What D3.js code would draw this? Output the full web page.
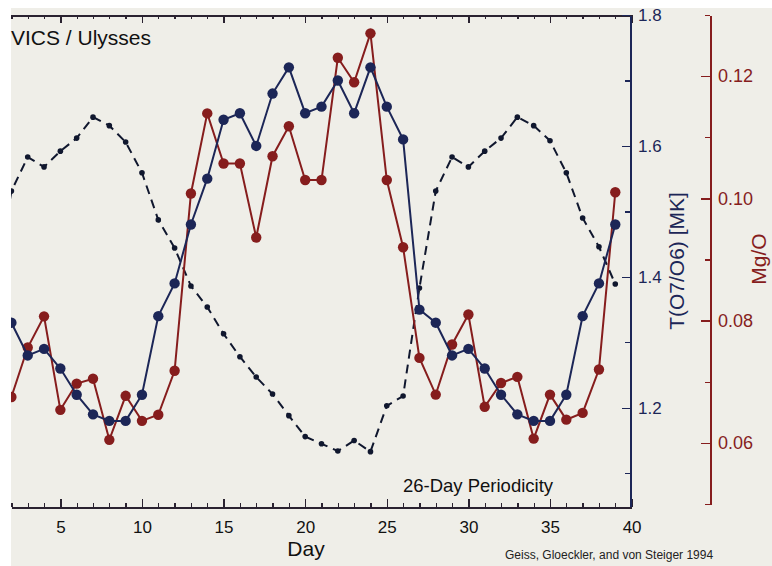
<!DOCTYPE html>
<html>
<head>
<meta charset="utf-8">
<script src="https://cdn.jsdelivr.net/npm/d3@7"></script>
<style>
  body { margin: 0; background: #fff; }
  svg { display: block; font-family: "Liberation Sans", Arial, Helvetica, sans-serif; }
  .axis path, .axis line { shape-rendering: crispEdges; }
</style>
</head>
<body>
<script>
// days (x)
const days = [2, 3, 4, 5, 6, 7, 8, 9, 10, 11, 12, 13, 14, 15, 16, 17, 18, 19, 20,
  21, 22, 23, 24, 25, 26, 27, 28, 29, 30, 31, 32, 33, 34, 35, 36, 37, 38, 39];

// T(O7/O6) in MK, blue
const tempO7O6 = [1.33, 1.28, 1.29, 1.26, 1.22, 1.19, 1.18, 1.18, 1.22, 1.34, 1.39,
  1.48, 1.55, 1.64, 1.65, 1.60, 1.68, 1.72, 1.65, 1.66, 1.70, 1.65, 1.72, 1.66, 1.61,
  1.35, 1.33, 1.28, 1.29, 1.26, 1.22, 1.19, 1.18, 1.18, 1.22, 1.34, 1.39, 1.48];

// Mg/O, red
const mgO = [0.0675, 0.0756, 0.0807, 0.0654, 0.0697, 0.0705, 0.0605, 0.0677, 0.0636,
  0.0646, 0.0718, 0.1008, 0.1139, 0.1057, 0.1057, 0.0936, 0.1069, 0.1118, 0.1030,
  0.1030, 0.1230, 0.1190, 0.1270, 0.1030, 0.0920, 0.0739, 0.0679, 0.0761, 0.0810,
  0.0659, 0.0698, 0.0708, 0.0607, 0.0679, 0.0638, 0.0649, 0.0720, 0.1010];

// dashed periodicity curve (plotted on T scale)
const periodDays = [1, 2, 3, 4, 5, 6, 7, 8, 9, 10, 11, 12, 13, 14, 15, 16, 17, 18, 19, 20,
  21, 22, 23, 24, 25, 26, 27, 28, 29, 30, 31, 32, 33, 34, 35, 36, 37, 38, 39];
const periodCurve = [1.383, 1.531, 1.583, 1.568, 1.592, 1.612, 1.644, 1.631, 1.606, 1.559,
  1.487, 1.444, 1.386, 1.354, 1.313, 1.278, 1.247, 1.221, 1.188, 1.156, 1.145, 1.134,
  1.150, 1.133, 1.203, 1.218, 1.383, 1.531, 1.583, 1.568, 1.592, 1.612, 1.644, 1.631,
  1.608, 1.559, 1.490, 1.446, 1.389];

const dayMajor = [5, 10, 15, 20, 25, 30, 35, 40];
const tMajor = [1.2, 1.4, 1.6, 1.8];
const tMinor = [1.1, 1.3, 1.5, 1.7];
const mgMajor = [0.06, 0.08, 0.10, 0.12];
const mgMinor = [0.05, 0.07, 0.09, 0.11, 0.13];

const W = 772, H = 566;
const navy = "#1c2657", red = "#861d1d", ink = "#10172e";
const pLeft = 11, pTop = 15, pRight = 631, pBottom = 507;

const svg = d3.select("body").append("svg")
  .attr("width", W).attr("height", H);

svg.append("rect").attr("width", W).attr("height", H).attr("fill", "#fff");
svg.append("rect").attr("x", 11).attr("y", 8).attr("width", W - 11).attr("height", H - 8)
  .attr("fill", "#efeee8");

const x = d3.scaleLinear().domain([2, 40]).range([11.4, 631.6]);
const yT = d3.scaleLinear().domain([1.05, 1.8]).range([506, 15]);
const yM = d3.scaleLinear().domain([0.05, 0.13]).range([504, 15]);

svg.append("clipPath").attr("id", "plot")
  .append("rect").attr("x", pLeft).attr("y", pTop)
  .attr("width", pRight - pLeft).attr("height", pBottom - pTop);

// x axis bottom, ticks pointing up
const minorDays = days.filter(d => d % 5 !== 0);
svg.append("g").attr("class", "axis")
  .attr("transform", "translate(0," + pBottom + ")")
  .call(d3.axisBottom(x).tickValues(minorDays).tickSizeInner(-4).tickSizeOuter(0).tickFormat(""))
  .call(g => g.select(".domain").attr("stroke", "#2a2230").attr("stroke-width", 2));
svg.append("g").attr("class", "axis")
  .attr("transform", "translate(0," + pBottom + ")")
  .call(d3.axisBottom(x).tickValues(dayMajor).tickSize(-8).tickPadding(14).tickFormat(d3.format("d")))
  .call(g => g.select(".domain").remove())
  .call(g => g.selectAll("text").attr("font-size", 17).attr("fill", "#111"));

// top frame, ticks pointing down
svg.append("g").attr("class", "axis")
  .attr("transform", "translate(0," + pTop + ")")
  .call(d3.axisTop(x).tickValues(minorDays).tickSizeInner(-4).tickSizeOuter(0).tickFormat(""))
  .call(g => g.select(".domain").attr("stroke", "#2a2230").attr("stroke-width", 2));
svg.append("g").attr("class", "axis")
  .attr("transform", "translate(0," + pTop + ")")
  .call(d3.axisTop(x).tickValues(dayMajor).tickSize(-8).tickFormat(""))
  .call(g => g.select(".domain").remove());

svg.selectAll(".axis line").attr("stroke", "#2a2230").attr("stroke-width", 1.3);

// T axis (right side of frame)
svg.append("g").attr("class", "axis")
  .attr("transform", "translate(630,0)")
  .call(d3.axisRight(yT).tickValues(tMinor).tickSizeInner(-5).tickSizeOuter(0).tickFormat(""))
  .call(g => g.select(".domain").attr("stroke", navy).attr("stroke-width", 2))
  .call(g => g.selectAll("line").attr("stroke", navy).attr("stroke-width", 1.3));
svg.append("g").attr("class", "axis")
  .attr("transform", "translate(630,0)")
  .call(d3.axisRight(yT).tickValues(tMajor).tickSize(-8).tickPadding(8).tickFormat(d3.format(".1f")))
  .call(g => g.select(".domain").remove())
  .call(g => g.selectAll("line").attr("stroke", navy).attr("stroke-width", 1.3))
  .call(g => g.selectAll("text").attr("font-size", 17).attr("fill", navy));

// Mg/O axis
svg.append("g").attr("class", "axis")
  .attr("transform", "translate(710,0)")
  .call(d3.axisRight(yM).tickValues(mgMinor).tickSizeInner(-5).tickSizeOuter(0).tickFormat(""))
  .call(g => g.select(".domain").attr("stroke", red).attr("stroke-width", 2))
  .call(g => g.selectAll("line").attr("stroke", red).attr("stroke-width", 1.3));
svg.append("g").attr("class", "axis")
  .attr("transform", "translate(710,0)")
  .call(d3.axisRight(yM).tickValues(mgMajor).tickSize(-9).tickPadding(8).tickFormat(d3.format(".2f")))
  .call(g => g.select(".domain").remove())
  .call(g => g.selectAll("line").attr("stroke", red).attr("stroke-width", 1.3))
  .call(g => g.selectAll("text").attr("font-size", 18).attr("fill", red));

const plot = svg.append("g").attr("clip-path", "url(#plot)");

// dashed periodicity
const period = periodDays.map((d, i) => ({ d: d, v: periodCurve[i] }));
plot.append("path")
  .datum(period)
  .attr("fill", "none")
  .attr("stroke", ink)
  .attr("stroke-width", 2)
  .attr("stroke-dasharray", "9,6")
  .attr("d", d3.line().x(p => x(p.d)).y(p => yT(p.v)));
plot.selectAll(".pdot").data(period).enter().append("circle")
  .attr("cx", p => x(p.d)).attr("cy", p => yT(p.v)).attr("r", 2.8).attr("fill", ink);

// Mg/O series
const mg = days.map((d, i) => ({ d: d, v: mgO[i] }));
plot.append("path")
  .datum(mg)
  .attr("fill", "none").attr("stroke", red).attr("stroke-width", 2)
  .attr("d", d3.line().x(p => x(p.d)).y(p => yM(p.v)));
plot.selectAll(".mdot").data(mg).enter().append("circle")
  .attr("cx", p => x(p.d)).attr("cy", p => yM(p.v)).attr("r", 5.2).attr("fill", red);

// T series
const tt = days.map((d, i) => ({ d: d, v: tempO7O6[i] }));
plot.append("path")
  .datum(tt)
  .attr("fill", "none").attr("stroke", navy).attr("stroke-width", 2)
  .attr("d", d3.line().x(p => x(p.d)).y(p => yT(p.v)));
plot.selectAll(".tdot").data(tt).enter().append("circle")
  .attr("cx", p => x(p.d)).attr("cy", p => yT(p.v)).attr("r", 5.2).attr("fill", navy);

// texts
svg.append("text").attr("x", 11).attr("y", 45).attr("font-size", 21).attr("fill", "#111")
  .text("VICS / Ulysses");
svg.append("text").attr("x", 478).attr("y", 492).attr("text-anchor", "middle")
  .attr("font-size", 18.5).attr("fill", "#111").text("26-Day Periodicity");
svg.append("text").attr("x", 306).attr("y", 556).attr("text-anchor", "middle")
  .attr("font-size", 21).attr("fill", "#111").text("Day");
svg.append("text").attr("x", 505).attr("y", 559).attr("font-size", 12).attr("fill", "#222")
  .text("Geiss, Gloeckler, and von Steiger 1994");
svg.append("text").attr("transform", "translate(684,261) rotate(-90)")
  .attr("text-anchor", "middle").attr("font-size", 21).attr("fill", navy)
  .text("T(O7/O6) [MK]");
svg.append("text").attr("transform", "translate(766,259) rotate(-90)")
  .attr("text-anchor", "middle").attr("font-size", 21).attr("fill", red)
  .text("Mg/O");
</script>
</body>
</html>
